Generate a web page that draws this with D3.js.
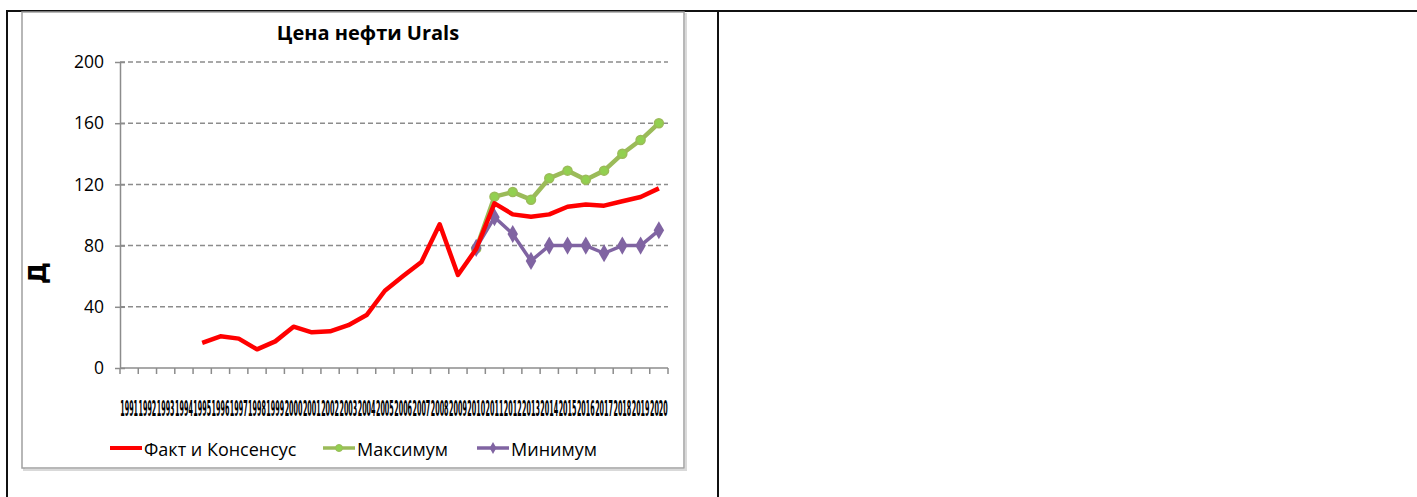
<!DOCTYPE html>
<html>
<head>
<meta charset="utf-8">
<script src="https://cdn.jsdelivr.net/npm/d3@7"></script>
<style>
  body { margin: 0; background: #fff; }
  svg { display: block; font-family: "Open Sans", "Noto Sans", sans-serif; }
</style>
</head>
<body>
<div id="chart"></div>
<script>
// Цена нефти Urals
const years = d3.range(1991, 2021).map(String);
const fact = [null, null, null, null, 16.5, 20.7, 19.2, 12.2, 17.4, 27, 23.3, 24, 28, 34.6, 50.5, 60.1, 69.3, 93.9, 60.8, 77.8,
              107.6, 100.4, 98.9, 100.4, 105.4, 106.8, 106.1, 109, 111.8, 117.4];
const maxVals = [null, null, null, null, null, null, null, null, null, null, null, null, null, null, null, null, null, null, null, 78,
                 112, 115, 110, 124, 129, 123, 129, 140, 149, 160];
const minVals = [null, null, null, null, null, null, null, null, null, null, null, null, null, null, null, null, null, null, null, 78.5,
                 98.5, 87.6, 70, 80, 80, 80, 75, 80, 80, 90];
const yTicks = [0, 40, 80, 120, 160, 200];
const seriesNames = ['Факт и Консенсус', 'Максимум', 'Минимум'];

const W = 1417, H = 497;
const svg = d3.select('#chart').append('svg').attr('width', W).attr('height', H);

// рамка таблицы
svg.append('line').attr('x1', 6).attr('x2', W).attr('y1', 11).attr('y2', 11).attr('stroke', '#111').attr('stroke-width', 2);
svg.append('line').attr('x1', 7).attr('x2', 7).attr('y1', 10).attr('y2', H).attr('stroke', '#111').attr('stroke-width', 2);
svg.append('line').attr('x1', 718).attr('x2', 718).attr('y1', 10).attr('y2', H).attr('stroke', '#111').attr('stroke-width', 2);

// рамка диаграммы
svg.append('rect').attr('x', 24).attr('y', 14).attr('width', 662).attr('height', 456).attr('fill', '#fff')
    .attr('stroke', '#d9d9d9').attr('stroke-width', 2);
svg.append('rect').attr('x', 22).attr('y', 12).attr('width', 662).attr('height', 456).attr('fill', '#fff')
    .attr('stroke', '#a0a0a0').attr('stroke-width', 1.5);

const x = d3.scaleBand().domain(years).range([120, 668]);
const y = d3.scaleLinear().domain([0, 200]).range([368, 62]);

// сетка
svg.append('g').selectAll('line').data(yTicks.filter(d => d > 0)).join('line')
    .attr('x1', 120).attr('x2', 668).attr('y1', d => y(d)).attr('y2', d => y(d))
    .attr('stroke', '#8c8c8c').attr('stroke-width', 1.5).attr('stroke-dasharray', '5,3');

// ось Y
const yAxis = svg.append('g').attr('transform', 'translate(120,0)')
    .call(d3.axisLeft(y).tickValues(yTicks).tickSize(5).tickSizeOuter(0));
yAxis.select('.domain').attr('stroke', '#8c8c8c').attr('stroke-width', 1.5);
yAxis.selectAll('.tick line').attr('stroke', '#8c8c8c').attr('stroke-width', 1.5).attr('x2', 5).attr('x1', -5);
yAxis.selectAll('.tick text').attr('x', -16).attr('font-size', 17.5).attr('fill', '#000')
    .attr('font-family', '"Open Sans", sans-serif');

// ось X
svg.append('line').attr('x1', 120).attr('x2', 668).attr('y1', 368).attr('y2', 368)
    .attr('stroke', '#8c8c8c').attr('stroke-width', 1.5);
svg.append('g').selectAll('line').data(years.concat(['end'])).join('line')
    .attr('x1', (d, i) => 120 + i * x.step()).attr('x2', (d, i) => 120 + i * x.step())
    .attr('y1', 368).attr('y2', 374).attr('stroke', '#8c8c8c').attr('stroke-width', 1.5);
// подписи годов сжаты по горизонтали, как в оригинале
svg.append('g').selectAll('text').data(years).join('text')
    .attr('transform', d => `translate(${x(d) + x.bandwidth() / 2},416) scale(0.4,1.3)`)
    .attr('text-anchor', 'middle').attr('font-size', 16).attr('font-weight', 900)
    .attr('font-family', '"DejaVu Sans", sans-serif')
    .attr('fill', '#000').text(d => d);

// подпись оси Y
svg.append('text').attr('transform', 'translate(37,273) rotate(-90)')
    .attr('text-anchor', 'middle').attr('dominant-baseline', 'central')
    .attr('font-size', 25).attr('font-weight', 900).attr('font-family', '"DejaVu Sans", sans-serif')
    .text('Д');

// заголовок
svg.append('text').attr('x', 368).attr('y', 40).attr('text-anchor', 'middle')
    .attr('font-size', 20).attr('font-weight', 'bold').attr('font-family', '"Open Sans", sans-serif')
    .text('Цена нефти Urals');

const line = d3.line().defined(d => d != null)
    .x((d, i) => x(years[i]) + x.bandwidth() / 2).y(d => y(d));

// Максимум
svg.append('path').datum(maxVals).attr('d', line).attr('fill', 'none')
    .attr('stroke', '#9bbb59').attr('stroke-width', 4.5).attr('stroke-linejoin', 'round');
svg.append('g').selectAll('circle').data(maxVals.map((v, i) => ({ v, i })).filter(d => d.v != null)).join('circle')
    .attr('cx', d => x(years[d.i]) + x.bandwidth() / 2).attr('cy', d => y(d.v)).attr('r', 4.5)
    .attr('fill', '#92d050').attr('stroke', '#9bbb59').attr('stroke-width', 1.5);

// Минимум
svg.append('path').datum(minVals).attr('d', line).attr('fill', 'none')
    .attr('stroke', '#8064a2').attr('stroke-width', 3.5).attr('stroke-linejoin', 'round');
const diamond = d3.symbol().type(d3.symbolDiamond).size(95);
svg.append('g').selectAll('path').data(minVals.map((v, i) => ({ v, i })).filter(d => d.v != null)).join('path')
    .attr('transform', d => `translate(${x(years[d.i]) + x.bandwidth() / 2},${y(d.v)})`)
    .attr('d', diamond).attr('fill', '#8064a2');

// Факт и Консенсус
svg.append('path').datum(fact).attr('d', line).attr('fill', 'none')
    .attr('stroke', '#ff0000').attr('stroke-width', 4.5).attr('stroke-linejoin', 'round');

// легенда
const legend = svg.append('g').attr('transform', 'translate(0,448)');
const legendX = [110, 323, 477];
const legendColors = ['#ff0000', '#9bbb59', '#8064a2'];
seriesNames.forEach(function (name, i) {
    const g = legend.append('g').attr('transform', `translate(${legendX[i]},0)`);
    g.append('line').attr('x1', 0).attr('x2', 32).attr('stroke', legendColors[i]).attr('stroke-width', i === 0 ? 4 : 3.5);
    if (i === 1) {
        g.append('circle').attr('cx', 16).attr('r', 3.5).attr('fill', '#92d050').attr('stroke', '#9bbb59');
    }
    if (i === 2) {
        g.append('path').attr('transform', 'translate(16,0)').attr('d', d3.symbol().type(d3.symbolDiamond).size(40)).attr('fill', '#8064a2');
    }
    g.append('text').attr('x', 34).attr('y', 1).attr('dominant-baseline', 'central')
        .attr('font-size', 18).attr('font-family', '"Open Sans", sans-serif').text(name);
});
</script>
</body>
</html>
